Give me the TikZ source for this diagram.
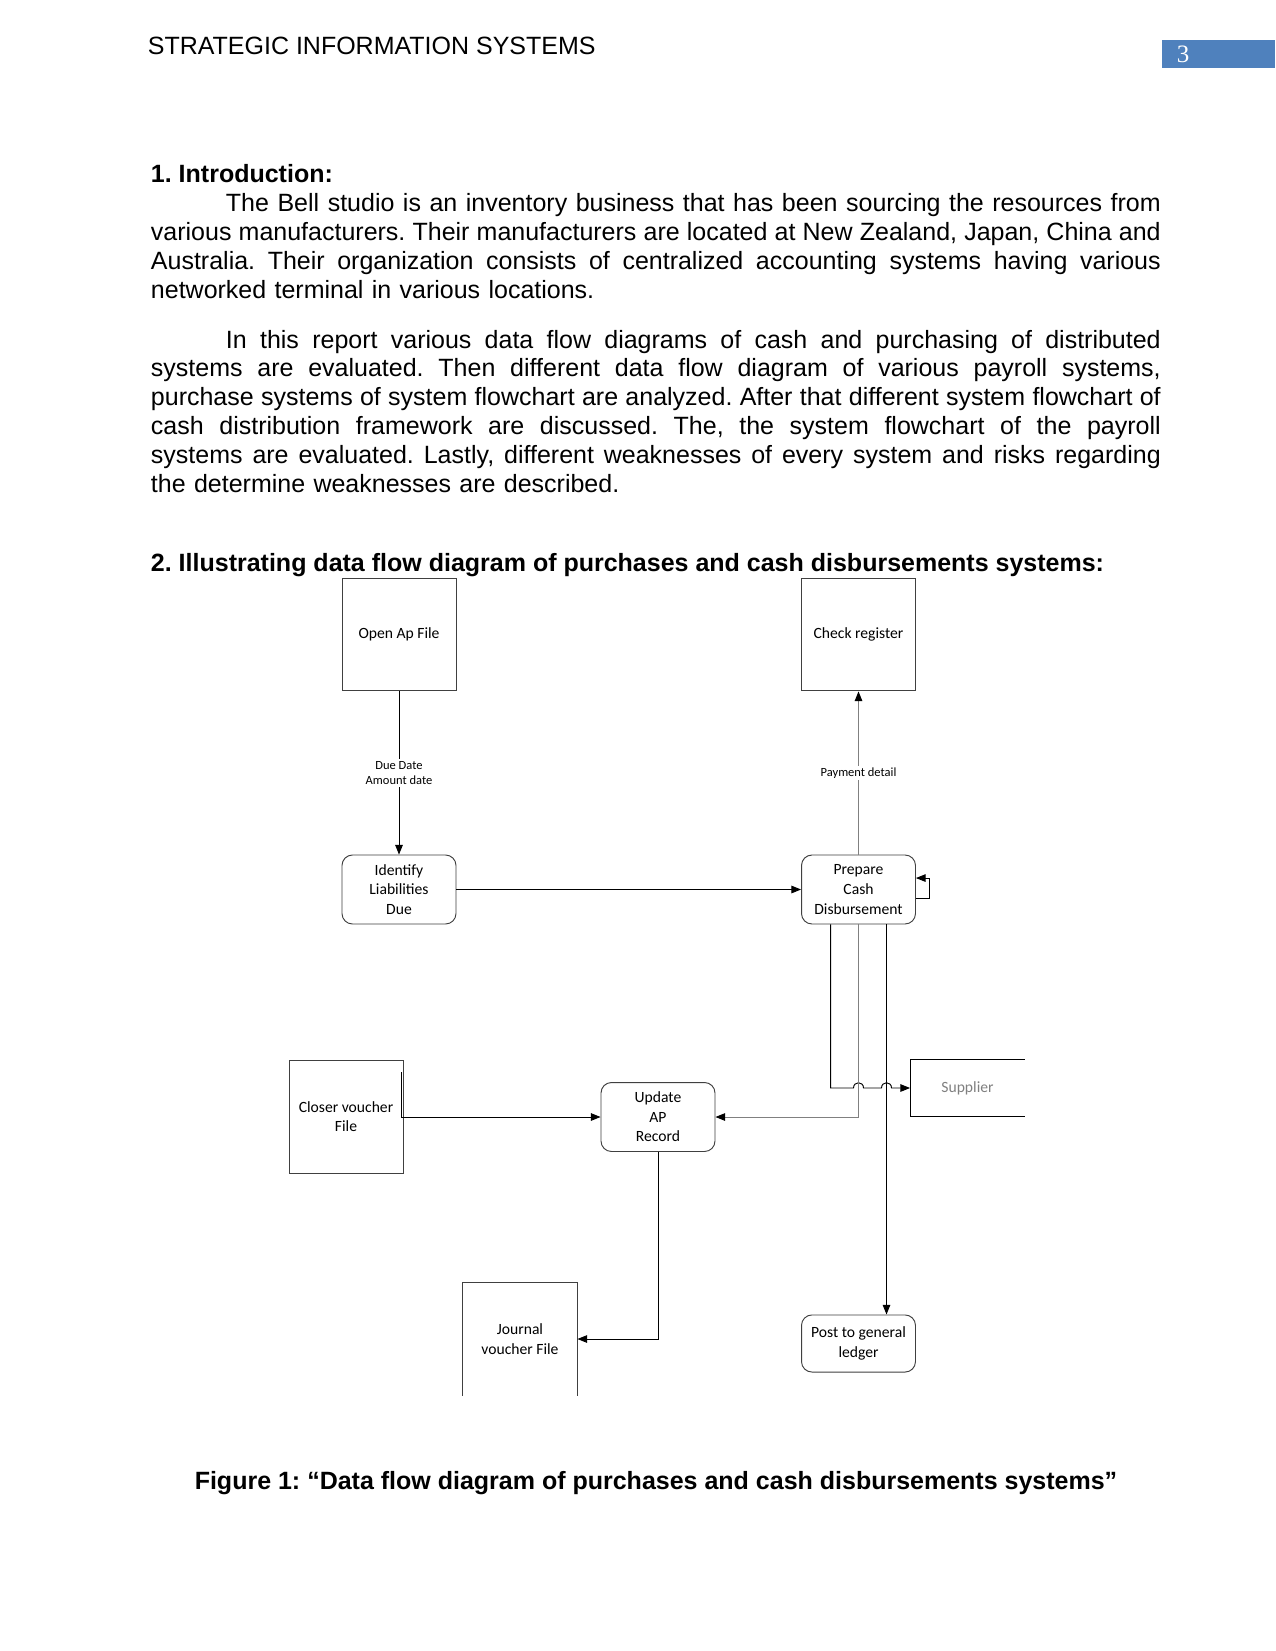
\documentclass[tikz,border=0pt]{standalone}
\usepackage{fontspec}
\setmainfont{Liberation Sans}
\newfontfamily\dfdfont{Carlito}
\newfontfamily\numfont{Liberation Serif}
\usetikzlibrary{positioning, arrows.meta}
\definecolor{hdrblue}{RGB}{79,129,189}
\frenchspacing
\newcommand{\fullline}[1]{{\spaceskip=\fontdimen2\font plus 1fil minus 0.4\fontdimen2\font\relax
  \makebox[484.7pt][s]{#1}}}

\begin{document}
\begin{tikzpicture}[x=0.48pt, y=-0.48pt, line width=0.45pt,
    >={Triangle[length=4.6pt,width=3.6pt]},
    body/.style={inner sep=0, font=\fontsize{12}{13.85}\selectfont},
    para/.style={body, text width=484.7pt, align=left, anchor=base west},
    filebox/.style={draw=black!75, minimum width=54.7pt, minimum height=54.2pt, inner sep=1pt,
                    font=\dfdfont\fontsize{7.5}{9.4}\selectfont, align=center},
    procbox/.style={draw=black!75, rounded corners=5pt, minimum width=54.7pt, minimum height=33.1pt,
                    inner sep=1pt, font=\dfdfont\fontsize{7.5}{9.4}\selectfont, align=center},
    flowlbl/.style={fill=white, inner sep=1pt, font=\dfdfont\fontsize{6}{7.1}\selectfont, align=center}]
  \useasboundingbox (0,0) rectangle (1275,1651);
  \fill[white] (0,0) rectangle (1275,1651);

  % running head
  \node[body, anchor=base west] (runhead) at (147.4,55) {STRATEGIC INFORMATION SYSTEMS};
  \node[fill=hdrblue, minimum width=53.8pt, minimum height=13.4pt, inner sep=0,
        anchor=north west] (pagebox) at (1162,40) {};
  \node[text=white, inner sep=0, font=\numfont\fontsize{12}{14}\selectfont] (pagenum) at (1183,54) {3};

  % text
  \node[body, anchor=base west, font=\fontsize{12}{13.85}\selectfont\bfseries] (sec1) at (150.5,183) {1. Introduction:};
  \node[para] (intro1) at (150.5,212) {%
    \fullline{\hspace*{36pt}The Bell studio is an inventory business that has been sourcing the resources from}\\
    \fullline{various manufacturers. Their manufacturers are located at New Zealand, Japan, China and}\\
    \fullline{Australia. Their organization consists of centralized accounting systems having various}\\
    networked terminal in various locations.};
  \node[para] (intro2) at (150.5,348) {%
    \fullline{\hspace*{36pt}In this report various data flow diagrams of cash and purchasing of distributed}\\
    \fullline{systems are evaluated. Then different data flow diagram of various payroll systems,}\\
    \fullline{purchase systems of system flowchart are analyzed. After that different system flowchart of}\\
    \fullline{cash distribution framework are discussed. The, the system flowchart of the payroll}\\
    \fullline{systems are evaluated. Lastly, different weaknesses of every system and risks regarding}\\
    the determine weaknesses are described.};
  \node[body, anchor=base west, font=\fontsize{12}{13.85}\selectfont\bfseries] (sec2) at (150.5,571)
    {2. Illustrating data flow diagram of purchases and cash disbursements systems:};

  % data flow diagram
  \node[filebox]  (openap)   at (399,634.5)   {Open Ap File};
  \node[filebox]  (checkreg) at (858.5,634.5) {Check register};
  \node[procbox]  (identify) at (399,889.5)   {Identify\\Liabilities\\Due};
  \node[procbox]  (prepare)  at (858.5,889.5) {Prepare\\Cash\\Disbursement};
  \node[filebox]  (closer)   at (346,1116.5)  {Closer voucher\\File};
  \node[procbox]  (update)   at (658,1117)    {Update\\AP\\Record};
  \node[filebox, draw=none, minimum height=26.9pt, text=gray] (supplier) at (967.5,1088) {Supplier};
  \node[filebox, draw=none] (journal) at (520,1339) {Journal\\voucher File};
  \node[procbox, minimum height=27.4pt] (post) at (858.5,1343.5) {Post to general\\ledger};

  \draw (supplier.north east) -- (supplier.north west) -- (supplier.south west) -- (supplier.south east);
  \draw[black!75] (journal.south west) -- (journal.north west) -- (journal.north east) -- (journal.south east);

  \coordinate (outL) at ([xshift=-13.35pt]prepare.south);
  \coordinate (outR) at ([xshift=13.44pt]prepare.south);
  \coordinate (hopM) at (prepare.south |- supplier.west);
  \coordinate (hopR) at (outR |- supplier.west);

  \draw[->] (openap) -- node[flowlbl] {Due Date\\Amount date} (identify);
  \draw[->] (identify) -- (prepare);
  \draw[gray, -{Triangle[length=4.6pt,width=3.6pt,black]}] (prepare) --
    node[flowlbl, text=black] {Payment detail} (checkreg);
  \draw[->] ([yshift=-4.5pt]prepare.east) -- ++(14,0) |- ([yshift=5.5pt]prepare.east);
  \draw[->] (outL) |- ([xshift=-2.4pt]hopM)
    .. controls +(0,-7) and +(0,-7) .. ([xshift=2.4pt]hopM) -- ([xshift=-2.4pt]hopR)
    .. controls +(0,-7) and +(0,-7) .. ([xshift=2.4pt]hopR) -- (supplier.west);
  \draw[gray, -{Triangle[length=4.6pt,width=3.6pt,black]}] (prepare.south) |- (update.east);
  \draw[->] (outR) -- (outR |- post.north);
  \draw[->] ([xshift=-1pt,yshift=-6pt]closer.north east) |- (update.west);
  \draw[->] (update.south) |- (journal.east);

  % caption
  \node[body, anchor=base, font=\fontsize{12}{13.85}\selectfont\bfseries] (caption) at (656,1489)
    {Figure 1: “Data flow diagram of purchases and cash disbursements systems”};
\end{tikzpicture}
\end{document}
